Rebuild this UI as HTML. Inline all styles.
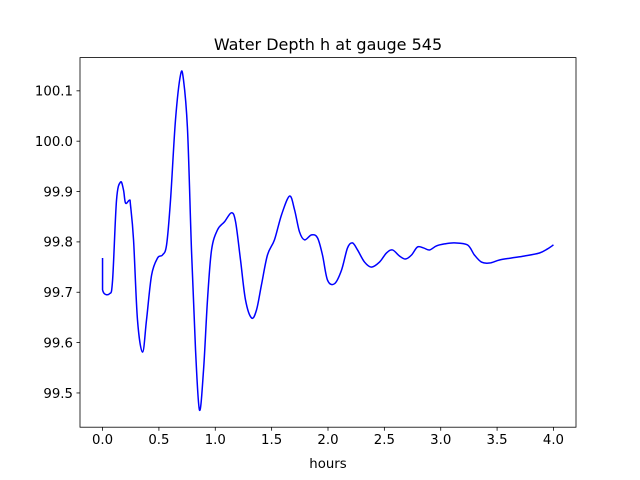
<!DOCTYPE html>
<html><head><meta charset="utf-8"><style>
body{margin:0;background:#fff}
svg{display:block;font-family:"DejaVu Sans","Liberation Sans",sans-serif}
</style></head><body>
<svg id="chart" width="640" height="480" viewBox="0 0 640 480" xmlns="http://www.w3.org/2000/svg">
<rect width="640" height="480" fill="#fff"/>
<text x="328" y="50" text-anchor="middle" font-size="16">Water Depth h at gauge 545</text>
<text x="328" y="468" text-anchor="middle" font-size="13.3">hours</text>
<g id="plot"></g>
</svg>
<script>
const hours=[0,0,0.062,0.089,0.124,0.160,0.186,0.204,0.239,0.248,0.275,0.310,0.355,0.390,0.435,0.488,0.532,0.568,0.603,0.647,0.692,0.718,0.754,0.789,0.825,0.860,0.896,0.931,0.967,1.020,1.082,1.144,1.180,1.224,1.268,1.322,1.366,1.410,1.463,1.525,1.588,1.659,1.703,1.747,1.792,1.854,1.907,1.951,1.996,2.058,2.120,2.173,2.217,2.262,2.324,2.386,2.457,2.519,2.572,2.634,2.687,2.741,2.794,2.847,2.900,2.962,3.033,3.122,3.237,3.299,3.361,3.432,3.521,3.627,3.743,3.876,3.947,4.0];
const depth=[99.768,99.705,99.697,99.724,99.883,99.919,99.903,99.877,99.883,99.873,99.804,99.645,99.581,99.645,99.734,99.768,99.774,99.794,99.883,100.042,100.132,100.122,100.022,99.784,99.585,99.466,99.546,99.685,99.784,99.824,99.840,99.858,99.840,99.764,99.685,99.649,99.665,99.715,99.774,99.804,99.854,99.891,99.864,99.820,99.804,99.814,99.808,99.774,99.724,99.717,99.744,99.788,99.798,99.784,99.760,99.750,99.760,99.778,99.784,99.772,99.766,99.774,99.790,99.788,99.784,99.792,99.796,99.798,99.794,99.774,99.760,99.758,99.764,99.768,99.772,99.778,99.786,99.794];
const xTicks=[0,0.5,1,1.5,2,2.5,3,3.5,4];
const xTickLabels=["0.0","0.5","1.0","1.5","2.0","2.5","3.0","3.5","4.0"];
const yTicks=[99.5,99.6,99.7,99.8,99.9,100.0,100.1];
const yTickLabels=["99.5","99.6","99.7","99.8","99.9","100.0","100.1"];

const L=80,R=576,T=57.6,B=427.2;
const xMin=-0.2,xMax=4.2,yMin=99.432,yMax=100.166;
const sx=v=>L+(v-xMin)/(xMax-xMin)*(R-L);
const sy=v=>B-(v-yMin)/(yMax-yMin)*(B-T);
const NS="http://www.w3.org/2000/svg";
const g=document.getElementById('plot');
function mk(t,a){const e=document.createElementNS(NS,t);for(const k in a)e.setAttribute(k,a[k]);g.appendChild(e);return e;}

// line (catmull-rom smoothing)
const pts=hours.map((h,i)=>[sx(h),sy(depth[i])]);
let d="M"+pts[0][0]+","+pts[0][1];
for(let i=0;i<pts.length-1;i++){
  const p0=pts[Math.max(0,i-1)],p1=pts[i],p2=pts[i+1],p3=pts[Math.min(pts.length-1,i+2)];
  if(i===0||p1[0]===p2[0]){d+=" L"+p2[0]+","+p2[1];continue;}
  const c1=[p1[0]+(p2[0]-p0[0])/6,p1[1]+(p2[1]-p0[1])/6];
  const c2=[p2[0]-(p3[0]-p1[0])/6,p2[1]-(p3[1]-p1[1])/6];
  d+=` C${c1[0]},${c1[1]} ${c2[0]},${c2[1]} ${p2[0]},${p2[1]}`;
}
const line=mk('path',{d:d,fill:'none',stroke:'#0000ff','stroke-width':1.5,'stroke-linejoin':'round'});



const frame=mk('rect',{x:L,y:T,width:R-L,height:B-T,fill:'none',stroke:'#000','stroke-width':0.8});



xTicks.forEach((v,i)=>{
  const x=sx(v);
  const t=mk('line',{x1:x,x2:x,y1:B,y2:B+3.5,stroke:'#000','stroke-width':0.8});
  
  
  const l=mk('text',{x:x,y:B+17,'text-anchor':'middle','font-size':13.3});
  l.textContent=xTickLabels[i];
  
  
});
yTicks.forEach((v,i)=>{
  const y=sy(v);
  const t=mk('line',{x1:L-3.5,x2:L,y1:y,y2:y,stroke:'#000','stroke-width':0.8});
  
  
  const l=mk('text',{x:L-7,y:y+4.8,'text-anchor':'end','font-size':13.3});
  l.textContent=yTickLabels[i];
  
  
});
</script>
</body></html>
